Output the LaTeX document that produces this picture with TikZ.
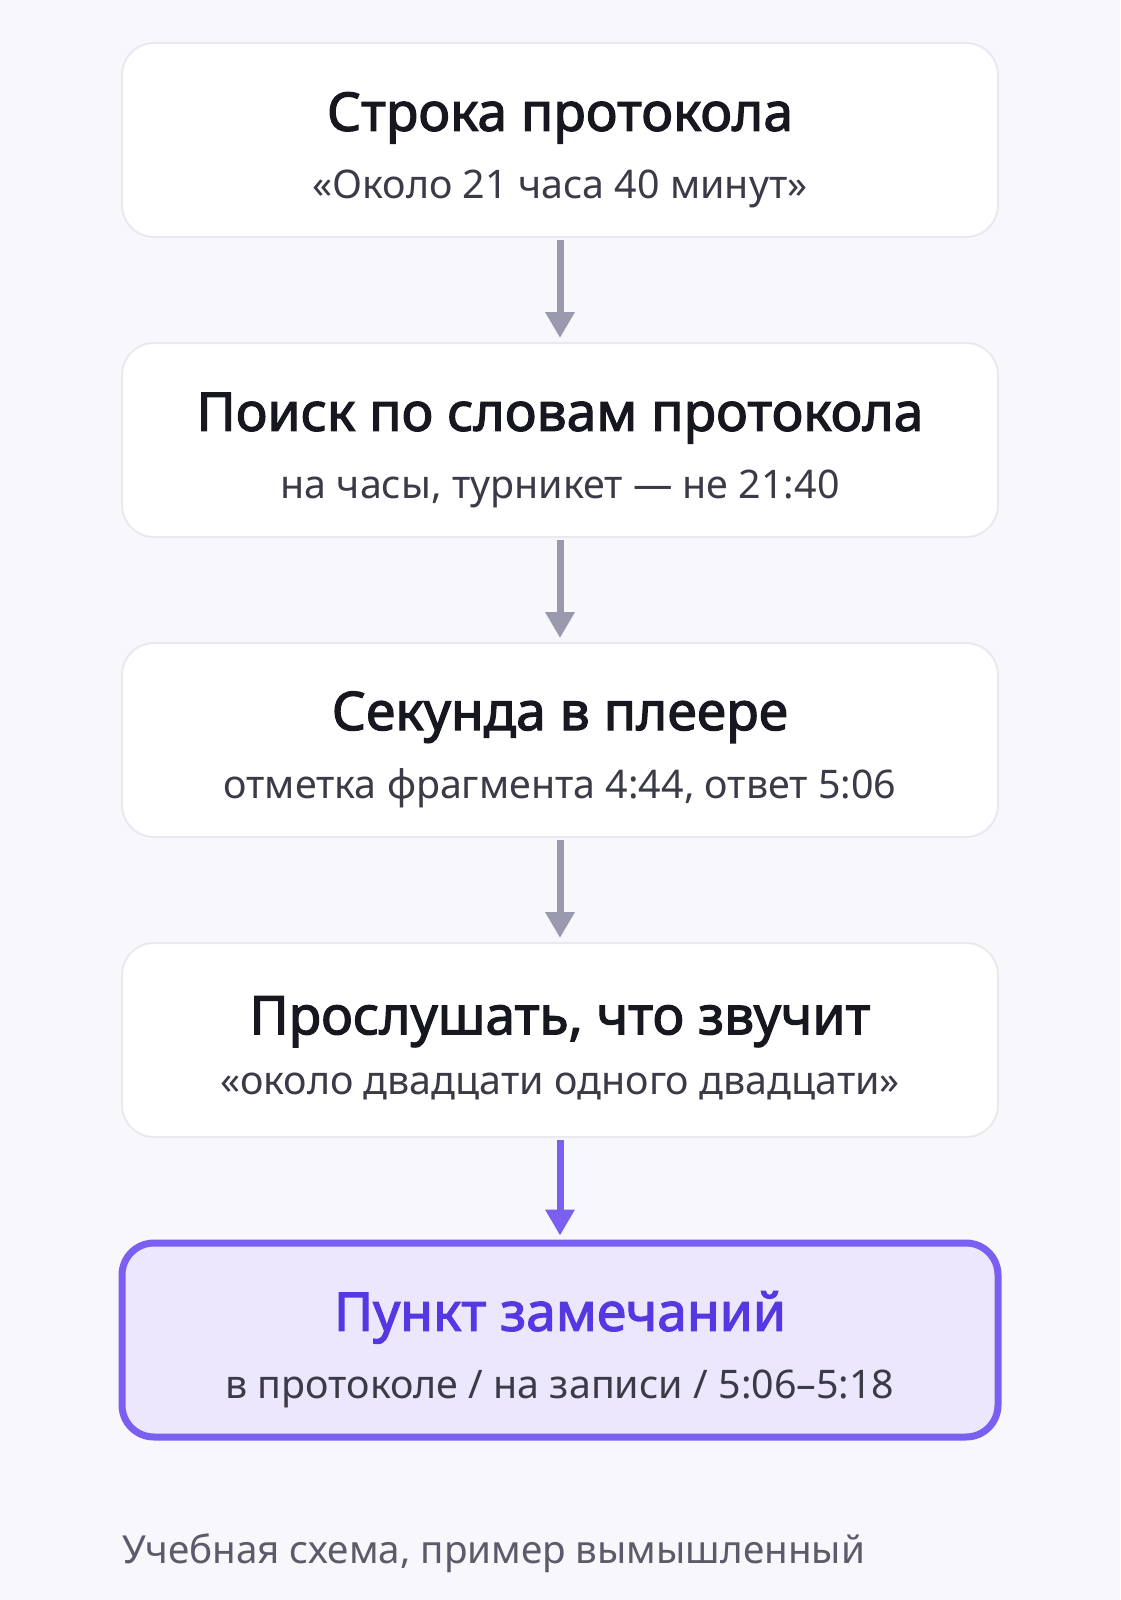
\documentclass[tikz,border=0pt]{standalone}
\usepackage{fontspec}
\setmainfont{Noto Sans}[BoldFont={Noto Sans}, BoldFeatures={FakeBold=2.2}]
\usetikzlibrary{arrows.meta,positioning}

\definecolor{pagebg}{HTML}{F7F7FC}
\definecolor{boxline}{HTML}{E9E9EF}
\definecolor{headcol}{HTML}{17171F}
\definecolor{subcol}{HTML}{3B3B47}
\definecolor{notecol}{HTML}{5C5B6A}
\definecolor{arrowgray}{HTML}{9B99AD}
\definecolor{violet}{HTML}{7A5FF0}
\definecolor{lilac}{HTML}{ECE7FD}
\definecolor{violettext}{HTML}{5538E2}

% title line and subtitle line of a step box
\newcommand{\stephead}[1]{{\fontsize{26.7pt}{30pt}\bfseries\selectfont\rule{0pt}{30.5pt}#1}}
\newcommand{\stepsub}[1]{{\fontsize{19.7pt}{23pt}\selectfont\color{subcol}\rule[-6pt]{0pt}{6pt}#1}}

\begin{document}
\begin{tikzpicture}[x=0.5pt,y=-0.5pt,
  stepbox/.style={draw=boxline, line width=1pt, fill=white, rounded corners=16pt,
    minimum width=438pt, minimum height=97pt, inner sep=0pt, align=center, text=headcol},
  lastbox/.style={stepbox, draw=violet, fill=lilac, line width=3.5pt, text=violettext},
  flow/.style={-{Triangle[width=14pt,length=13pt]}, line width=3.5pt, draw=arrowgray,
    shorten <=1pt, shorten >=2pt},
  note/.style={text=notecol, font=\fontsize{19.3pt}{24pt}\selectfont, inner sep=0pt}]
\fill [pagebg] (0,0) rectangle (1120,1600);
\useasboundingbox (0,0) rectangle (1120,1600);

\node [stepbox] (line) at (560,140) {\stephead{Строка протокола}\\[12pt]\stepsub{«Около 21 часа 40 минут»}};
\node [stepbox] (search) at (560,440) {\stephead{Поиск по словам протокола}\\[12pt]\stepsub{на часы, турникет — не 21:40}};
\node [stepbox] (second) at (560,740) {\stephead{Секунда в плеере}\\[12pt]\stepsub{отметка фрагмента 4:44, ответ 5:06}};
\node [stepbox] (listen) at (560,1040) {\stephead{Прослушать, что звучит}\\[12pt]\stepsub{«около двадцати одного двадцати»}};
\node [lastbox] (point) at (560,1340) {\stephead{Пункт замечаний}\\[12pt]\stepsub{в протоколе / на записи / 5:06–5:18}};

\draw [flow] (line) -- (search);
\draw [flow] (search) -- (second);
\draw [flow] (second) -- (listen);
\draw [flow, draw=violet] (listen) -- (point);

\node [note, anchor=base west] (caption) at (122,1563) {Учебная схема, пример вымышленный};
\end{tikzpicture}
\end{document}
